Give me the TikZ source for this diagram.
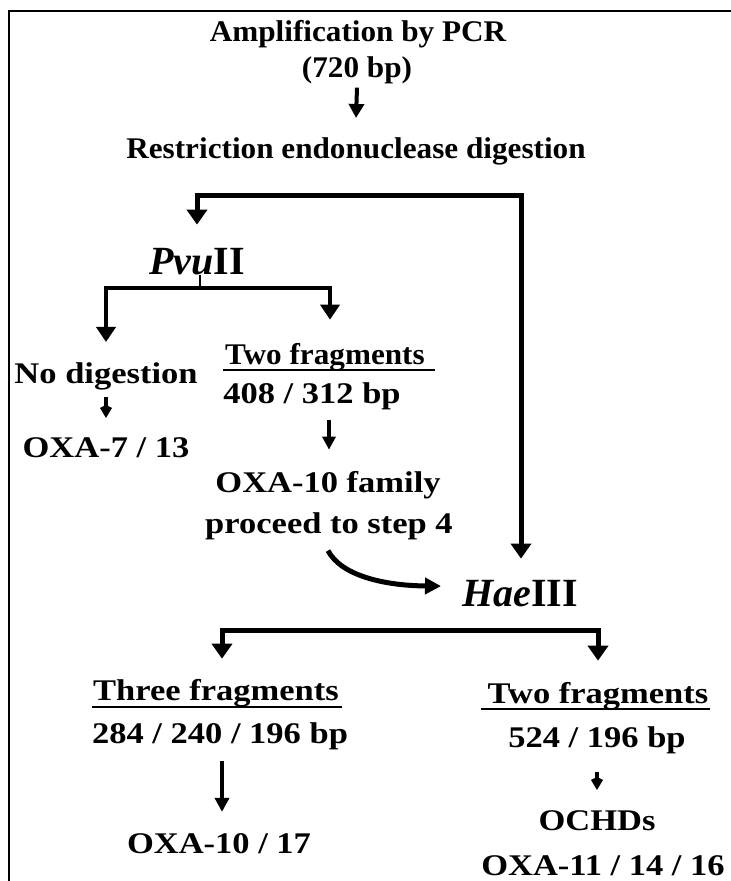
\documentclass[tikz,border=0pt]{standalone}
\usepackage{fontspec}
\setmainfont{Liberation Serif}
\newfontfamily\fa[FakeStretch=1.04]{Liberation Serif}
\newfontfamily\fb[FakeStretch=1.15]{Liberation Serif}
\usetikzlibrary{arrows.meta,calc}
\tikzset{
  ta/.style={font=\fa\bfseries\fontsize{30}{36}\selectfont, inner sep=0pt, anchor=base},
  tb/.style={font=\fb\bfseries\fontsize{30}{36}\selectfont, inner sep=0pt, anchor=base},
  enz/.style={font=\bfseries\fontsize{40}{48}\selectfont, inner sep=0pt, anchor=base},
  bighead/.style={Triangle[width=20pt,length=15pt]},
  twoarr/.style={line width=5pt, {Triangle[width=20pt,length=15pt]}-{Triangle[width=20pt,length=15pt]}},
  brarr/.style={line width=4.5pt, {Triangle[width=19pt,length=15pt]}-{Triangle[width=19pt,length=15pt]}},
  arr/.style={line width=4pt, -{Triangle[width=15pt,length=14pt]}},
  curvearr/.style={line width=5pt, -{Triangle[width=16pt,length=16pt]}},
  sarr/.style={line width=3.5pt, -{Kite[width=12pt,length=13pt,inset=3pt]}},
  ul/.style={line width=2.8pt},
  framel/.style={line width=1.6pt}
}
\begin{document}
\begin{tikzpicture}[x=1pt,y=-1pt]
\useasboundingbox (0,0) rectangle (731,881);
\fill[white] (0,0) rectangle (731,881);
\draw[framel] (9,881) -- (9,11) -- (731,11);

% text nodes
\node[ta] (amp) at (358,41) {Amplification by PCR};
\node[ta] (bp) at (357,77) {(720 bp)};
\node[ta] (re) at (356,158) {Restriction endonuclease digestion};
\node[enz] (pvu) at (197,274) {\textit{Pvu}II};
\node[tb] (nd) at (106,383) {No digestion};
\node[tb] (oxa7) at (106,457) {OXA-7 / 13};
\node[ta] (tf1) at (325,364) {Two fragments};
\node[tb] (n408) at (312,403) {408 / 312 bp};
\node[tb] (ofam) at (328,492) {OXA-10 family};
\node[tb] (step) at (329,533) {proceed to step 4};
\node[enz] (hae) at (520,606) {\textit{Hae}III};
\node[tb] (tf2) at (216,700) {Three fragments};
\node[tb] (n284) at (220,743) {284 / 240 / 196 bp};
\node[tb] (o1017) at (219,853) {OXA-10 / 17};
\node[tb] (tf3) at (598,703) {Two fragments};
\node[tb] (n524) at (597,747) {524 / 196 bp};
\node[tb] (ochd) at (597,830) {OCHDs};
\node[tb] (o1114) at (603,875) {OXA-11 / 14 / 16};

% underlines
\draw[ul] ($(tf1.base west)+(-2,6)$) -- ($(tf1.base east)+(10,6)$);
\draw[ul] ($(tf2.base west)+(-1,7)$) -- ($(tf2.base east)+(3,7)$);
\draw[ul] ($(tf3.base west)+(-6,6)$) -- ($(tf3.base east)+(1,6)$);

% junction coordinates
\coordinate (j1) at (521,195);
\coordinate (j2) at (200,288);
\coordinate (j3) at (520,630);

% connectors
\draw[arr] (bp.south) ++(0,4) -- ($(re.north)+(0,-19)$);
\draw[twoarr, shorten <=23pt, shorten >=21pt] (pvu.north) |- (j1) -- (j1 |- hae.north);
\draw[line width=2.2pt] (pvu.south -| j2) -- (j2);
\draw[brarr, shorten <=20pt, shorten >=23pt] (nd.north) |- (j2) -| ($(tf1.north)+(5,0)$);
\draw[sarr, shorten <=7pt, shorten >=19pt] (nd.south) -- (oxa7.north);
\draw[arr, line width=3.6pt, -{Triangle[width=13pt,length=13pt]}, shorten <=10pt, shorten >=21pt] ($(n408.south)+(17,0)$) -- ($(ofam.north)+(1,0)$);
\draw[curvearr] ($(step.south)+(-1,11)$) .. controls ($(step.south)+(12,36)$) and ($(step.south)+(55,46)$) .. ($(hae.west)+(-21,-7)$);
\draw[twoarr, shorten <=20pt, shorten >=21pt] ($(tf2.north)+(6,0)$) |- (j3) -| (tf3.north);
\draw[arr, line width=3.6pt, -{Triangle[width=14pt,length=14pt]}, shorten <=11pt, shorten >=21pt] ($(n284.south)+(2,0)$) -- ($(o1017.north)+(3,0)$);
\draw[sarr, shorten <=18pt, shorten >=20pt] (n524.south) -- (ochd.north);
\end{tikzpicture}
\end{document}
